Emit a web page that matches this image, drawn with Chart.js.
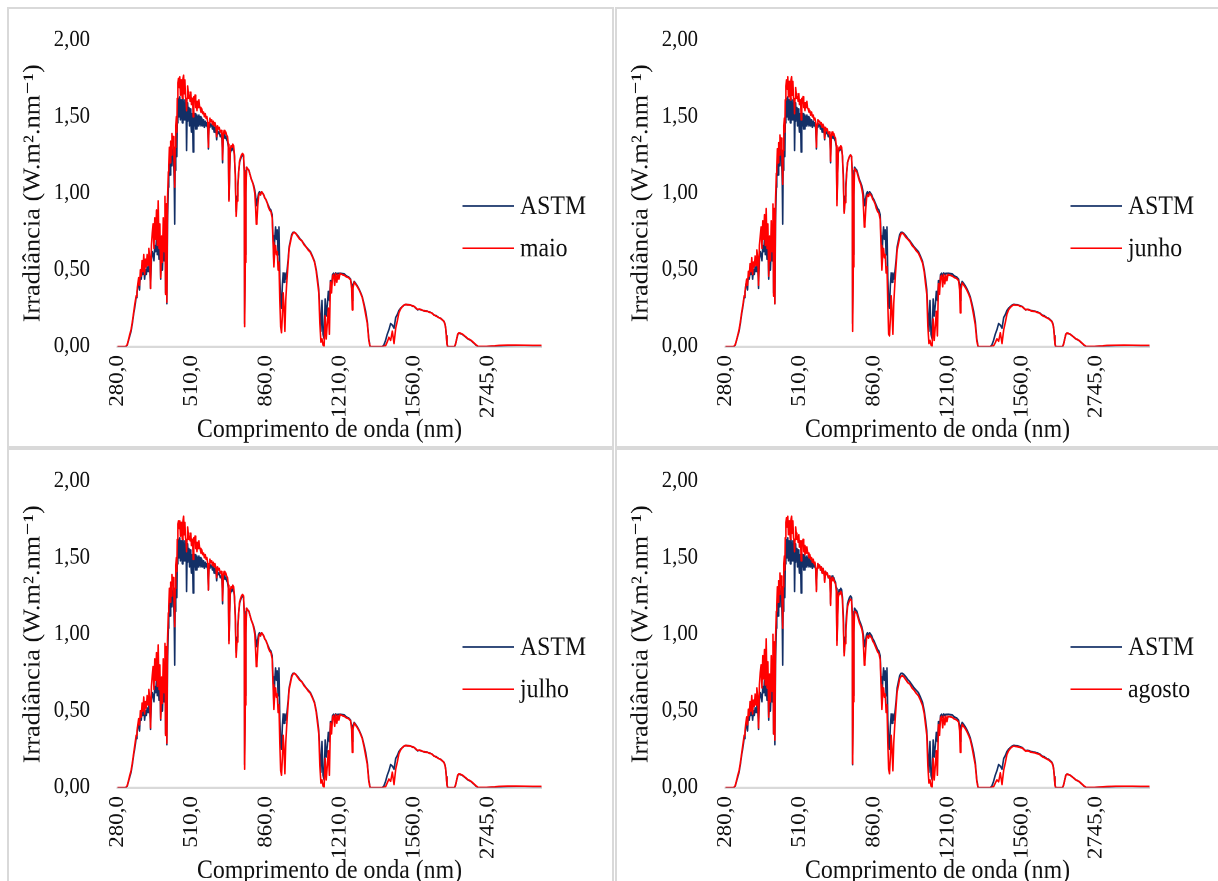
<!DOCTYPE html>
<html lang="pt-BR">
<head>
<meta charset="utf-8">
<title>Irradiância espectral: ASTM x maio, junho, julho, agosto</title>
<script src="https://cdn.jsdelivr.net/npm/chart.js@4.4.1/dist/chart.umd.min.js"></script>
<style>
  html, body { margin: 0; padding: 0; background: #fff; overflow: hidden; }
  .panel {
    position: absolute;
    width: 607px;
    height: 441px;
    box-sizing: border-box;
    border: 2px solid #d9d9d9;
    background: #fff;
  }
</style>
</head>
<body>
<div class="panel" style="left:7px;top:7px"><canvas id="chartMaio" width="603" height="394" style="width:603px;height:437px"></canvas></div>
<div class="panel" style="left:615px;top:7px"><canvas id="chartJunho" width="603" height="394" style="width:603px;height:437px"></canvas></div>
<div class="panel" style="left:7px;top:448px"><canvas id="chartJulho" width="603" height="394" style="width:603px;height:437px"></canvas></div>
<div class="panel" style="left:615px;top:448px"><canvas id="chartAgosto" width="603" height="394" style="width:603px;height:437px"></canvas></div>

<script>
/* global Chart */

const wavelength = [
  280, 295, 300, 303, 306, 309, 312, 315, 318, 321,
  324, 326, 328, 330, 332, 334, 336, 338, 340, 342,
  344, 346, 348, 350, 352, 354, 356, 358, 360, 362,
  364, 366, 368, 370, 372, 374, 376, 378, 380, 382,
  384, 386, 388, 390, 392, 393.5, 395, 396.5, 398, 400,
  402, 405, 408, 411, 414, 417, 420, 423, 426, 428,
  430, 432, 434, 436, 438, 440, 442, 445, 448, 451,
  454, 457, 460, 463, 466, 469, 472, 475, 478, 481,
  484, 486, 488, 491, 494, 497, 500, 503, 506, 509,
  512, 515, 517, 520, 523, 526, 529, 532, 535, 538,
  541, 544, 547, 550, 554, 558, 562, 566, 570, 574,
  578, 582, 586, 589, 592, 596, 600, 604, 608, 612,
  616, 620, 625, 628, 632, 636, 640, 645, 650, 653,
  656, 659, 663, 667, 671, 675, 679, 683, 686, 689,
  692, 696, 700, 704, 708, 712, 716, 720, 724, 728,
  732, 736, 740, 745, 750, 755, 758, 760, 763, 766,
  769, 774, 780, 786, 792, 798, 803, 808, 812, 815,
  818, 822, 826, 830, 835, 840, 845, 850, 855, 860,
  866, 872, 878, 884, 890, 894, 898, 902, 906, 910,
  914, 918, 922, 926, 930, 934, 938, 942, 946, 950,
  954, 958, 962, 966, 970, 976, 982, 988, 994, 1000,
  1010, 1020, 1030, 1040, 1050, 1060, 1070, 1080, 1090, 1098,
  1104, 1110, 1115, 1120, 1125, 1130, 1135, 1140, 1145, 1150,
  1155, 1160, 1165, 1170, 1175, 1180, 1185, 1190, 1195, 1200,
  1205, 1210, 1220, 1230, 1240, 1250, 1260, 1265, 1268, 1271,
  1277, 1285, 1292, 1300, 1308, 1315, 1323, 1331, 1339, 1346,
  1352, 1380, 1410, 1417, 1425, 1433, 1441, 1449, 1457, 1465,
  1473, 1481, 1488, 1496, 1504, 1512, 1520, 1528, 1536, 1544,
  1552, 1560, 1568, 1576, 1585, 1593, 1602, 1612, 1622, 1632,
  1642, 1654, 1665, 1675, 1686, 1700, 1720, 1740, 1755, 1770,
  1785, 1850, 1950, 1975, 2000, 2025, 2055, 2090, 2130, 2175,
  2220, 2260, 2300, 2340, 2380, 2420, 2460, 2500, 2700, 2900,
  3000, 3200, 3400, 3600, 3800, 4000
];

// ASTM reference spectrum (W.m-2.nm-1), same in all four panels
const astm = [
  0, 0, 0.001, 0.01, 0.04, 0.07, 0.10, 0.15, 0.21, 0.26,
  0.32, 0.35, 0.40, 0.43, 0.37, 0.47, 0.44, 0.50, 0.47, 0.52,
  0.44, 0.50, 0.47, 0.52, 0.49, 0.55, 0.52, 0.38, 0.57, 0.62,
  0.60, 0.56, 0.66, 0.62, 0.70, 0.60, 0.68, 0.57, 0.64, 0.44,
  0.58, 0.50, 0.66, 0.56, 0.72, 0.35, 0.68, 0.28, 0.80, 1.04,
  1.10, 1.20, 1.12, 1.26, 1.18, 1.30, 1.24, 1.28, 1.16, 1.05,
  0.80, 1.15, 1.28, 1.36, 1.30, 1.24, 1.46, 1.58, 1.62, 1.50,
  1.63, 1.48, 1.61, 1.52, 1.46, 1.62, 1.56, 1.48, 1.61, 1.50,
  1.55, 1.28, 1.47, 1.59, 1.48, 1.56, 1.44, 1.55, 1.46, 1.40,
  1.52, 1.43, 1.27, 1.53, 1.44, 1.52, 1.42, 1.51, 1.42, 1.50,
  1.44, 1.51, 1.45, 1.50, 1.44, 1.49, 1.44, 1.48, 1.43, 1.47,
  1.44, 1.46, 1.42, 1.29, 1.43, 1.46, 1.44, 1.45, 1.42, 1.44,
  1.40, 1.43, 1.40, 1.35, 1.41, 1.39, 1.40, 1.37, 1.38, 1.35,
  1.20, 1.36, 1.38, 1.36, 1.37, 1.35, 1.34, 1.30, 0.96, 1.10,
  1.26, 1.29, 1.28, 1.30, 1.29, 1.24, 1.12, 0.88, 0.98, 1.06,
  1.14, 1.20, 1.22, 1.24, 1.25, 1.24, 1.15, 0.15, 0.60, 1.05,
  1.17, 1.16, 1.15, 1.12, 1.09, 1.07, 1.05, 1.02, 0.98, 0.92,
  0.95, 0.97, 1.00, 1.01, 0.99, 1.01, 1.00, 0.99, 0.97, 0.96,
  0.94, 0.92, 0.90, 0.89, 0.86, 0.72, 0.55, 0.70, 0.78, 0.70,
  0.76, 0.60, 0.78, 0.45, 0.30, 0.25, 0.40, 0.48, 0.42, 0.48,
  0.44, 0.47, 0.52, 0.58, 0.65, 0.69, 0.73, 0.745, 0.745, 0.74,
  0.725, 0.705, 0.69, 0.67, 0.65, 0.635, 0.62, 0.59, 0.555, 0.50,
  0.44, 0.37, 0.22, 0.10, 0.30, 0.08, 0.05, 0.31, 0.20, 0.27,
  0.36, 0.30, 0.43, 0.40, 0.47, 0.478, 0.46, 0.48, 0.47, 0.478,
  0.475, 0.478, 0.476, 0.474, 0.46, 0.455, 0.44, 0.40, 0.30, 0.40,
  0.425, 0.41, 0.395, 0.375, 0.35, 0.325, 0.28, 0.23, 0.16, 0.05,
  0, 0, 0, 0.01, 0.04, 0.08, 0.11, 0.15, 0.14, 0.12,
  0.19, 0.21, 0.235, 0.25, 0.26, 0.27, 0.275, 0.273, 0.272, 0.27,
  0.264, 0.262, 0.25, 0.24, 0.243, 0.24, 0.235, 0.232, 0.23, 0.225,
  0.22, 0.206, 0.20, 0.19, 0.183, 0.165, 0.15, 0.12, 0.07, 0.02,
  0, 0, 0, 0.02, 0.05, 0.08, 0.088, 0.084, 0.08, 0.07,
  0.06, 0.05, 0.045, 0.038, 0.028, 0.018, 0.008, 0, 0, 0.002,
  0.004, 0.006, 0.007, 0.007, 0.006, 0.006
];

const maio = [
  0, 0, 0.001, 0.012, 0.045, 0.08, 0.11, 0.16, 0.22, 0.28,
  0.33, 0.36, 0.41, 0.45, 0.40, 0.50, 0.46, 0.56, 0.49, 0.60,
  0.47, 0.57, 0.52, 0.60, 0.53, 0.64, 0.58, 0.38, 0.66, 0.74,
  0.80, 0.64, 0.84, 0.70, 0.89, 0.66, 0.95, 0.64, 0.80, 0.45,
  0.72, 0.55, 0.84, 0.62, 0.98, 0.34, 0.93, 0.29, 0.96, 1.14,
  1.18, 1.30, 1.20, 1.34, 1.25, 1.39, 1.32, 1.37, 1.26, 1.18,
  1.04, 1.30, 1.34, 1.44, 1.50, 1.40, 1.62, 1.72, 1.75, 1.69,
  1.76, 1.64, 1.74, 1.66, 1.62, 1.75, 1.77, 1.65, 1.74, 1.63,
  1.60, 1.54, 1.62, 1.70, 1.66, 1.62, 1.64, 1.60, 1.66, 1.58,
  1.62, 1.60, 1.50, 1.63, 1.60, 1.64, 1.56, 1.60, 1.54, 1.60,
  1.56, 1.61, 1.57, 1.56, 1.53, 1.55, 1.52, 1.53, 1.50, 1.52,
  1.49, 1.50, 1.46, 1.30, 1.46, 1.49, 1.47, 1.48, 1.45, 1.47,
  1.44, 1.46, 1.43, 1.37, 1.44, 1.42, 1.43, 1.40, 1.41, 1.38,
  1.22, 1.38, 1.41, 1.39, 1.40, 1.38, 1.37, 1.32, 0.95, 1.12,
  1.28, 1.31, 1.30, 1.32, 1.31, 1.25, 1.10, 0.85, 0.95, 1.04,
  1.14, 1.21, 1.23, 1.25, 1.26, 1.25, 1.14, 0.13, 0.55, 1.00,
  1.17, 1.16, 1.15, 1.12, 1.09, 1.07, 1.04, 1.00, 0.90, 0.80,
  0.82, 0.92, 0.98, 1.00, 0.99, 1.01, 1.00, 0.99, 0.97, 0.96,
  0.94, 0.91, 0.89, 0.88, 0.84, 0.68, 0.52, 0.62, 0.66, 0.60,
  0.62, 0.50, 0.55, 0.30, 0.13, 0.09, 0.20, 0.35, 0.25, 0.10,
  0.30, 0.40, 0.48, 0.56, 0.64, 0.68, 0.72, 0.74, 0.745, 0.74,
  0.72, 0.70, 0.69, 0.665, 0.65, 0.63, 0.615, 0.585, 0.55, 0.49,
  0.42, 0.35, 0.15, 0.03, 0.05, 0.01, 0.00, 0.20, 0.05, 0.15,
  0.25, 0.08, 0.42, 0.35, 0.46, 0.47, 0.40, 0.475, 0.42, 0.47,
  0.44, 0.475, 0.47, 0.465, 0.455, 0.45, 0.435, 0.38, 0.24, 0.38,
  0.42, 0.405, 0.39, 0.37, 0.345, 0.32, 0.27, 0.21, 0.15, 0.04,
  0, 0, 0, 0.002, 0.005, 0.03, 0.06, 0.04, 0.10, 0.02,
  0.12, 0.17, 0.22, 0.245, 0.26, 0.27, 0.275, 0.273, 0.272, 0.27,
  0.265, 0.262, 0.252, 0.242, 0.245, 0.24, 0.235, 0.232, 0.23, 0.224,
  0.22, 0.205, 0.198, 0.19, 0.182, 0.165, 0.148, 0.118, 0.065, 0.015,
  0, 0, 0, 0.018, 0.052, 0.082, 0.09, 0.086, 0.082, 0.072,
  0.062, 0.052, 0.047, 0.04, 0.03, 0.02, 0.01, 0.001, 0.001, 0.004,
  0.007, 0.009, 0.009, 0.008, 0.007, 0.007
];

const junho = [
  0, 0, 0.001, 0.012, 0.04, 0.075, 0.11, 0.16, 0.22, 0.27,
  0.33, 0.36, 0.40, 0.44, 0.40, 0.49, 0.46, 0.54, 0.49, 0.58,
  0.47, 0.55, 0.52, 0.59, 0.53, 0.63, 0.58, 0.40, 0.66, 0.72,
  0.78, 0.64, 0.82, 0.70, 0.86, 0.66, 0.90, 0.64, 0.80, 0.46,
  0.72, 0.56, 0.82, 0.62, 0.93, 0.33, 0.90, 0.28, 0.95, 1.13,
  1.17, 1.29, 1.20, 1.33, 1.25, 1.38, 1.32, 1.36, 1.26, 1.17,
  1.06, 1.28, 1.34, 1.44, 1.49, 1.40, 1.61, 1.70, 1.74, 1.68,
  1.76, 1.63, 1.73, 1.66, 1.61, 1.74, 1.76, 1.64, 1.73, 1.62,
  1.60, 1.52, 1.62, 1.69, 1.65, 1.62, 1.63, 1.60, 1.65, 1.58,
  1.61, 1.59, 1.48, 1.62, 1.59, 1.63, 1.56, 1.59, 1.54, 1.59,
  1.56, 1.60, 1.56, 1.55, 1.53, 1.54, 1.51, 1.53, 1.50, 1.51,
  1.48, 1.49, 1.46, 1.30, 1.45, 1.48, 1.47, 1.47, 1.45, 1.46,
  1.43, 1.45, 1.43, 1.36, 1.43, 1.41, 1.42, 1.39, 1.40, 1.37,
  1.21, 1.37, 1.40, 1.38, 1.39, 1.37, 1.36, 1.31, 0.92, 1.10,
  1.27, 1.30, 1.29, 1.31, 1.30, 1.24, 1.08, 0.87, 0.94, 1.03,
  1.13, 1.20, 1.22, 1.24, 1.25, 1.24, 1.12, 0.10, 0.52, 0.98,
  1.16, 1.15, 1.14, 1.11, 1.08, 1.06, 1.03, 0.99, 0.88, 0.78,
  0.80, 0.90, 0.97, 0.99, 0.98, 1.00, 0.99, 0.98, 0.96, 0.95,
  0.93, 0.90, 0.88, 0.87, 0.83, 0.66, 0.50, 0.60, 0.64, 0.58,
  0.60, 0.48, 0.52, 0.28, 0.08, 0.07, 0.18, 0.33, 0.22, 0.08,
  0.28, 0.38, 0.47, 0.55, 0.63, 0.67, 0.71, 0.735, 0.74, 0.735,
  0.715, 0.70, 0.685, 0.66, 0.645, 0.625, 0.61, 0.58, 0.545, 0.485,
  0.41, 0.34, 0.13, 0.02, 0.04, 0.01, 0.00, 0.18, 0.04, 0.13,
  0.23, 0.07, 0.41, 0.34, 0.455, 0.465, 0.39, 0.47, 0.41, 0.465,
  0.43, 0.47, 0.465, 0.46, 0.45, 0.445, 0.43, 0.37, 0.22, 0.37,
  0.415, 0.40, 0.385, 0.365, 0.34, 0.315, 0.265, 0.205, 0.14, 0.035,
  0, 0, 0, 0.002, 0.004, 0.025, 0.05, 0.035, 0.09, 0.02,
  0.11, 0.16, 0.21, 0.24, 0.255, 0.265, 0.272, 0.27, 0.27, 0.268,
  0.262, 0.26, 0.25, 0.24, 0.243, 0.238, 0.233, 0.23, 0.228, 0.222,
  0.218, 0.203, 0.196, 0.188, 0.18, 0.163, 0.146, 0.116, 0.063, 0.014,
  0, 0, 0, 0.016, 0.05, 0.08, 0.088, 0.085, 0.08, 0.07,
  0.06, 0.05, 0.046, 0.039, 0.029, 0.019, 0.009, 0.001, 0.001, 0.004,
  0.007, 0.008, 0.009, 0.008, 0.007, 0.007
];

const julho = [
  0, 0, 0.001, 0.012, 0.045, 0.08, 0.11, 0.16, 0.22, 0.28,
  0.34, 0.37, 0.41, 0.45, 0.41, 0.50, 0.46, 0.55, 0.50, 0.59,
  0.48, 0.56, 0.52, 0.60, 0.54, 0.64, 0.58, 0.39, 0.66, 0.73,
  0.79, 0.64, 0.84, 0.70, 0.88, 0.66, 0.93, 0.64, 0.80, 0.45,
  0.72, 0.55, 0.84, 0.62, 0.94, 0.34, 0.92, 0.29, 0.96, 1.14,
  1.18, 1.30, 1.21, 1.34, 1.25, 1.39, 1.32, 1.37, 1.27, 1.18,
  1.05, 1.30, 1.35, 1.45, 1.50, 1.41, 1.62, 1.72, 1.74, 1.69,
  1.74, 1.64, 1.73, 1.67, 1.62, 1.74, 1.77, 1.65, 1.73, 1.63,
  1.60, 1.54, 1.62, 1.70, 1.66, 1.62, 1.64, 1.61, 1.66, 1.58,
  1.62, 1.60, 1.49, 1.63, 1.60, 1.64, 1.56, 1.60, 1.54, 1.60,
  1.56, 1.61, 1.57, 1.56, 1.53, 1.55, 1.52, 1.53, 1.50, 1.52,
  1.49, 1.50, 1.46, 1.29, 1.46, 1.49, 1.47, 1.48, 1.45, 1.47,
  1.44, 1.46, 1.43, 1.37, 1.44, 1.42, 1.43, 1.40, 1.41, 1.38,
  1.22, 1.38, 1.41, 1.39, 1.40, 1.38, 1.37, 1.32, 0.94, 1.11,
  1.28, 1.31, 1.30, 1.32, 1.31, 1.25, 1.09, 0.85, 0.95, 1.04,
  1.14, 1.21, 1.23, 1.25, 1.26, 1.25, 1.13, 0.12, 0.54, 1.00,
  1.17, 1.16, 1.15, 1.12, 1.09, 1.07, 1.04, 1.00, 0.89, 0.79,
  0.81, 0.91, 0.98, 1.00, 0.99, 1.01, 1.00, 0.99, 0.97, 0.96,
  0.94, 0.91, 0.89, 0.88, 0.84, 0.67, 0.51, 0.61, 0.65, 0.59,
  0.61, 0.49, 0.54, 0.29, 0.11, 0.08, 0.19, 0.34, 0.24, 0.09,
  0.29, 0.39, 0.48, 0.56, 0.64, 0.68, 0.72, 0.74, 0.745, 0.74,
  0.72, 0.70, 0.69, 0.665, 0.65, 0.63, 0.615, 0.585, 0.55, 0.49,
  0.42, 0.35, 0.14, 0.03, 0.05, 0.01, 0.00, 0.19, 0.05, 0.14,
  0.24, 0.08, 0.42, 0.35, 0.46, 0.47, 0.40, 0.475, 0.42, 0.47,
  0.44, 0.475, 0.47, 0.465, 0.455, 0.45, 0.435, 0.38, 0.23, 0.38,
  0.42, 0.405, 0.39, 0.37, 0.345, 0.32, 0.27, 0.21, 0.15, 0.04,
  0, 0, 0, 0.002, 0.005, 0.03, 0.055, 0.04, 0.10, 0.02,
  0.12, 0.17, 0.22, 0.245, 0.26, 0.27, 0.275, 0.273, 0.272, 0.27,
  0.265, 0.262, 0.252, 0.242, 0.245, 0.24, 0.235, 0.232, 0.23, 0.224,
  0.22, 0.205, 0.198, 0.19, 0.182, 0.165, 0.148, 0.118, 0.065, 0.015,
  0, 0, 0, 0.018, 0.052, 0.082, 0.09, 0.086, 0.082, 0.072,
  0.062, 0.052, 0.047, 0.04, 0.03, 0.02, 0.01, 0.001, 0.001, 0.004,
  0.007, 0.009, 0.009, 0.008, 0.007, 0.007
];

const agosto = [
  0, 0, 0.001, 0.012, 0.045, 0.08, 0.11, 0.16, 0.22, 0.28,
  0.34, 0.37, 0.42, 0.46, 0.41, 0.51, 0.47, 0.56, 0.50, 0.60,
  0.48, 0.57, 0.53, 0.61, 0.54, 0.65, 0.59, 0.39, 0.67, 0.75,
  0.80, 0.65, 0.86, 0.71, 0.90, 0.67, 0.97, 0.65, 0.82, 0.46,
  0.74, 0.56, 0.86, 0.63, 1.00, 0.35, 0.95, 0.31, 0.97, 1.15,
  1.19, 1.31, 1.21, 1.35, 1.26, 1.40, 1.33, 1.38, 1.27, 1.18,
  1.04, 1.31, 1.36, 1.46, 1.51, 1.42, 1.63, 1.73, 1.76, 1.70,
  1.77, 1.65, 1.74, 1.67, 1.62, 1.75, 1.77, 1.66, 1.74, 1.63,
  1.61, 1.54, 1.62, 1.70, 1.66, 1.62, 1.64, 1.60, 1.65, 1.57,
  1.61, 1.58, 1.48, 1.61, 1.58, 1.62, 1.54, 1.58, 1.52, 1.57,
  1.53, 1.57, 1.54, 1.53, 1.50, 1.52, 1.49, 1.50, 1.47, 1.49,
  1.46, 1.47, 1.43, 1.28, 1.43, 1.46, 1.44, 1.45, 1.42, 1.44,
  1.40, 1.43, 1.40, 1.34, 1.41, 1.39, 1.40, 1.37, 1.38, 1.35,
  1.19, 1.35, 1.37, 1.35, 1.36, 1.34, 1.33, 1.28, 0.93, 1.08,
  1.24, 1.27, 1.26, 1.28, 1.27, 1.22, 1.07, 0.86, 0.94, 1.02,
  1.11, 1.18, 1.20, 1.22, 1.23, 1.22, 1.12, 0.155, 0.56, 1.01,
  1.15, 1.145, 1.135, 1.105, 1.075, 1.055, 1.035, 1.00, 0.90, 0.80,
  0.82, 0.91, 0.98, 0.99, 0.975, 0.995, 0.985, 0.975, 0.955, 0.945,
  0.925, 0.905, 0.885, 0.875, 0.835, 0.67, 0.51, 0.61, 0.65, 0.59,
  0.61, 0.49, 0.54, 0.29, 0.12, 0.09, 0.20, 0.34, 0.24, 0.11,
  0.29, 0.39, 0.47, 0.55, 0.625, 0.665, 0.71, 0.725, 0.73, 0.725,
  0.705, 0.685, 0.675, 0.65, 0.635, 0.615, 0.60, 0.57, 0.535, 0.48,
  0.41, 0.34, 0.14, 0.03, 0.05, 0.01, 0.00, 0.19, 0.05, 0.14,
  0.24, 0.08, 0.41, 0.34, 0.455, 0.465, 0.39, 0.465, 0.41, 0.465,
  0.43, 0.465, 0.462, 0.458, 0.447, 0.442, 0.428, 0.37, 0.23, 0.37,
  0.412, 0.397, 0.383, 0.363, 0.338, 0.313, 0.265, 0.205, 0.145, 0.04,
  0, 0, 0, 0.002, 0.005, 0.028, 0.05, 0.038, 0.095, 0.02,
  0.115, 0.165, 0.215, 0.24, 0.255, 0.265, 0.27, 0.268, 0.267, 0.265,
  0.26, 0.258, 0.248, 0.238, 0.24, 0.236, 0.231, 0.228, 0.226, 0.22,
  0.216, 0.202, 0.195, 0.187, 0.179, 0.162, 0.145, 0.115, 0.063, 0.014,
  0, 0, 0, 0.017, 0.05, 0.08, 0.087, 0.084, 0.08, 0.07,
  0.06, 0.05, 0.045, 0.039, 0.029, 0.019, 0.009, 0.001, 0.001, 0.004,
  0.006, 0.008, 0.008, 0.008, 0.007, 0.007
];

// x axis is the row number of the ASTM table, labelled every 350 rows
const tickRows = [0, 350, 700, 1050, 1400, 1750];
const tickLabels = ['280,0', '510,0', '860,0', '1210,0', '1560,0', '2745,0'];

const panels = [
  { id: 'chartMaio', label: 'maio', values: maio },
  { id: 'chartJunho', label: 'junho', values: junho },
  { id: 'chartJulho', label: 'julho', values: julho },
  { id: 'chartAgosto', label: 'agosto', values: agosto }
];

const NAVY = '#132f66';
const RED = '#ff0000';
const SERIF = '"Liberation Serif", "Times New Roman", "DejaVu Serif", serif';

// row of a wavelength in the ASTM table:
// 0.5 nm steps up to 400, 1 nm up to 1700, then 5 nm from 1705
function tableRow(nm) {
  if (nm <= 400) return (nm - 280) * 2;
  if (nm <= 1700) return 240 + (nm - 400);
  if (nm <= 1705) return 1540 + (nm - 1700) * 0.4;
  return 1542 + (nm - 1705) / 5;
}

function toPoints(values) {
  if (values.length !== wavelength.length) console.warn('length mismatch', values.length);
  return wavelength.map((nm, i) => ({ x: tableRow(nm), y: values[i] }));
}

// legend drawn inside the plot, to the right of the curves
const innerLegend = {
  id: 'innerLegend',
  afterDraw(chart) {
    const { ctx, chartArea } = chart;
    const rows = [149.6, 187.8];
    ctx.save();
    ctx.font = '23.8px ' + SERIF;
    ctx.textBaseline = 'middle';
    ctx.textAlign = 'left';
    chart.data.datasets.forEach((ds, i) => {
      const y = chartArea.top + rows[i];
      ctx.strokeStyle = ds.borderColor;
      ctx.lineWidth = 1.5;
      ctx.beginPath();
      ctx.moveTo(chartArea.right - 79, y);
      ctx.lineTo(chartArea.right - 27.5, y);
      ctx.stroke();
      ctx.fillStyle = '#111';
      ctx.fillText(ds.label, chartArea.right - 21.5, y + 1);
    });
    ctx.restore();
  }
};

panels.forEach(p => {
  const canvas = document.getElementById(p.id);
  new Chart(canvas.getContext('2d'), {
    type: 'line',
    data: {
      datasets: [
        {
          label: 'ASTM',
          data: toPoints(astm),
          borderColor: NAVY,
          borderWidth: 1.6,
          pointRadius: 0,
          tension: 0,
          borderJoinStyle: 'round',
          order: 1
        },
        {
          label: p.label,
          data: toPoints(p.values),
          borderColor: RED,
          borderWidth: 1.6,
          pointRadius: 0,
          tension: 0,
          borderJoinStyle: 'round',
          order: 0 // red on top
        }
      ]
    },
    options: {
      responsive: false,
      devicePixelRatio: 2,
      animation: false,
      events: [],
      layout: {
        padding: { left: 0, right: 70.5, top: 28, bottom: 0 }
      },
      plugins: {
        legend: { display: false },
        tooltip: { enabled: false }
      },
      scales: {
        x: {
          type: 'linear',
          min: 0,
          max: 2001,
          grid: { display: false, drawTicks: false },
          border: { display: true, color: '#d9d9d9', width: 2 },
          afterBuildTicks: axis => {
            axis.ticks = tickRows.map(v => ({ value: v }));
          },
          afterFit: axis => {
            axis.height = 89.7;
            axis.paddingLeft = 0;
            axis.paddingRight = 0;
          },
          ticks: {
            autoSkip: false,
            minRotation: 90,
            maxRotation: 90,
            padding: 7.7,
            color: '#111',
            font: { family: SERIF, size: 20.7 },
            callback: v => tickLabels[tickRows.indexOf(v)]
          },
          title: {
            display: true,
            text: 'Comprimento de onda (nm)',
            color: '#111',
            font: { family: SERIF, size: 23.8 },
            padding: { top: 0, bottom: 0 }
          }
        },
        y: {
          min: 0,
          max: 2,
          grid: { display: false, drawTicks: false },
          border: { display: false },
          afterFit: axis => {
            axis.width = 108.5;
            // keep the plot top at the 2,00 line set by layout padding
            axis.paddingTop = 0;
            axis.paddingBottom = 0;
          },
          ticks: {
            stepSize: 0.5,
            padding: 27.5,
            color: '#111',
            font: { family: SERIF, size: 20.7 },
            callback: v => v.toFixed(2).replace('.', ',')
          },
          title: {
            display: true,
            text: 'Irradiância (W.m².nm⁻¹)',
            color: '#111',
            font: { family: SERIF, size: 23.8 },
            padding: { top: 10, bottom: 0 }
          }
        }
      }
    },
    plugins: [innerLegend]
  });
});
</script>
</body>
</html>
